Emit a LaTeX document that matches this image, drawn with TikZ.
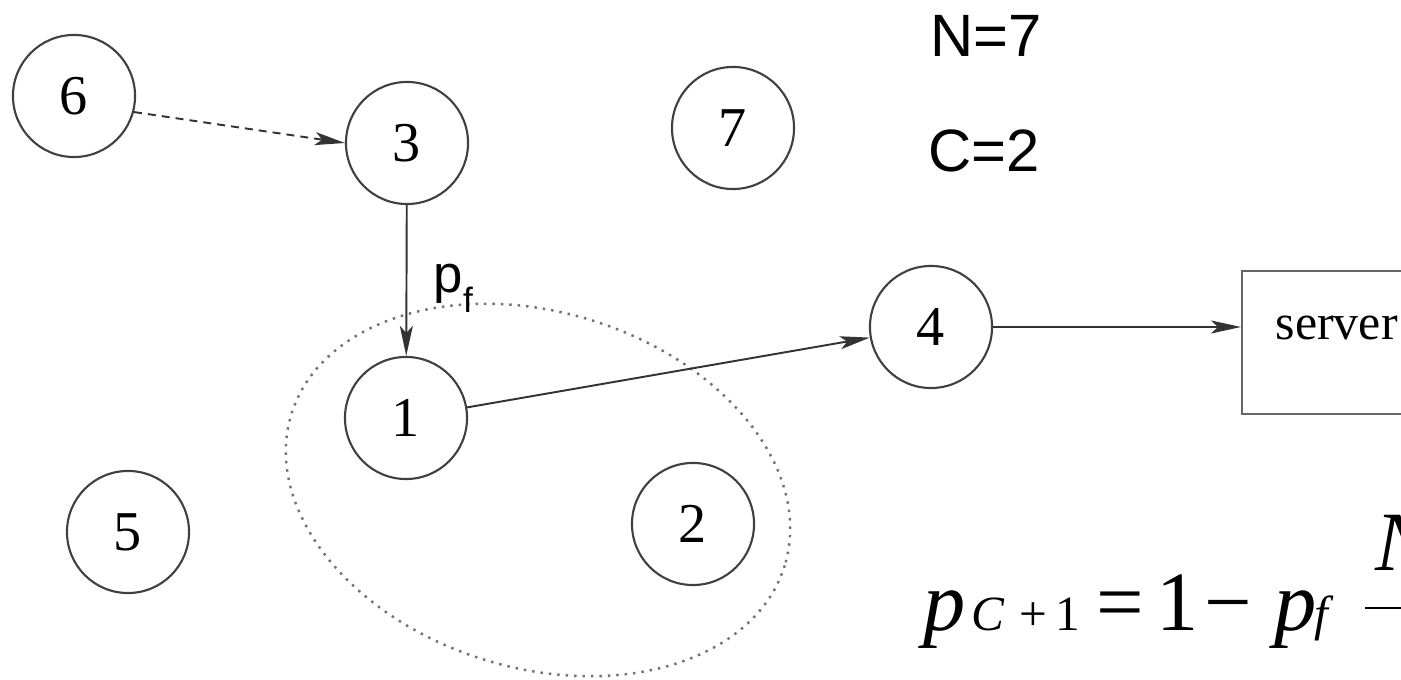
\documentclass[tikz,border=0pt]{standalone}
\usepackage{fontspec}
\setmainfont{Liberation Serif}
\newfontfamily\arialfont{Liberation Sans}
\usetikzlibrary{arrows.meta}

\tikzset{
    station/.style={circle, draw=black!75, line width=0.6pt, minimum size=1.22cm, inner sep=0pt, font=\fontsize{16}{18}\selectfont},
    link/.style={draw=black!80, line width=0.55pt, -{Stealth[length=0.3cm, width=0.13cm, inset=0.07cm]}},
    cluster/.style={draw=black!55, line width=0.7pt, dash pattern=on 0.7pt off 1.7pt},
    param/.style={anchor=base west, inner sep=0pt, font=\arialfont\fontsize{17}{20}\selectfont}
}

\begin{document}
\begin{tikzpicture}[x=0.01cm, y=-0.01cm]
    \useasboundingbox (0,0) rectangle (1401,680);
    \clip (0,0) rectangle (1401,680);

    % nodes of the network
    \foreach \n/\x/\y in {6/74/96, 3/407/143, 7/733/128, 4/931/327, 1/406/418, 5/128/532, 2/693/524} {
        \node[station] (n\n) at (\x,\y) {\n};
    }
    \node[draw=black!60, line width=0.6pt, anchor=north west, minimum width=2.6cm, minimum height=1.43cm] (server) at (1241,270) {};
    \node[anchor=base west, inner sep=0pt, font=\fontsize{14.2}{17}\selectfont] (serverlabel) at (1275,340) {server};

    % colluding group
    \draw[cluster, rotate around={-17:(538,490)}] (538,490) ellipse [x radius=258, y radius=178];

    \draw[link, dashed, dash pattern=on 0.08cm off 0.06cm] (n6.-15) -- (n3.west);
    \draw[link] (n3) -- (n1);
    \draw[link] (n1) -- (n4);
    \draw[link] (n4) -- (n4 -| server.west);

    \node[anchor=base west, inner sep=0pt, font=\arialfont\fontsize{15}{18}\selectfont] (pf) at (433,293) {p\raisebox{-0.19cm}{\fontsize{10}{12}\selectfont f}};
    \node[param] (N) at (930,57) {N=7};
    \node[param] (C) at (928,172) {C=2};

    \node[anchor=base west, inner sep=0pt] (formula) at (923,630) {\fontsize{24}{28}\selectfont
        \textit{p}\kern0.06cm{\fontsize{14}{16}\selectfont\textit{C}\kern0.14cm+\kern0.09cm1}\kern0.16cm=\kern0.12cm1\kern0.06cm−\kern0.22cm\textit{p}\kern-0.02cm{\fontsize{14}{16}\selectfont\textit{f}}\kern0.27cm$\displaystyle\frac{\mbox{\itshape N}}{\hbox to 0.78cm{}}$};
\end{tikzpicture}
\end{document}
